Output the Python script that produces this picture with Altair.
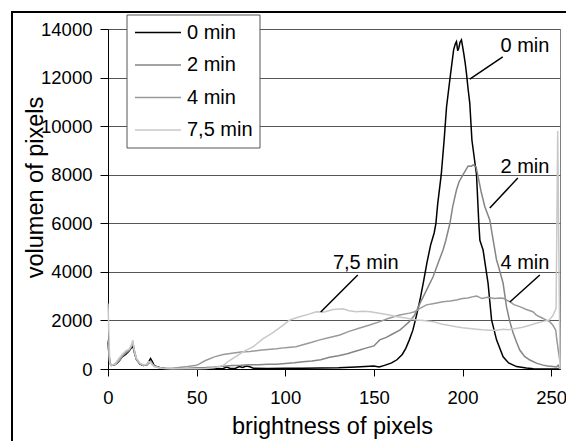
import altair as alt
import pandas as pd

# ---------------- data ----------------
series = ["0 min", "2 min", "4 min", "7,5 min"]
colors = ["#000000", "#858585", "#9a9a9a", "#c8c8c8"]

x_low = [0, 1, 2, 4, 6, 8, 10, 12, 13, 14, 15, 16, 18, 20, 22, 23, 24, 25, 26, 28, 30, 33, 36, 40]
y0_low = [1100, 250, 150, 180, 300, 500, 600, 750, 850, 950, 650, 400, 200, 150, 180, 300, 430, 300, 150, 80, 40, 10, 0, 0]
y2_low = [1200, 250, 160, 200, 320, 520, 650, 780, 900, 1050, 700, 400, 220, 150, 170, 250, 330, 220, 130, 70, 40, 20, 10, 20]
y4_low = [1000, 230, 150, 190, 330, 550, 680, 800, 920, 1100, 720, 420, 230, 160, 160, 230, 300, 200, 120, 70, 40, 30, 30, 60]
y75_low = [2700, 250, 160, 210, 420, 600, 750, 820, 950, 1180, 700, 450, 230, 170, 200, 300, 280, 170, 100, 60, 30, 20, 10, 10]

x0_hi = [45, 50, 60, 65, 67, 69, 72, 74, 76, 78, 80, 82, 90, 100, 110, 120, 130, 140, 145, 150, 153, 156,
         160, 163, 166, 168, 170, 172, 174, 176, 178, 180, 182, 184, 185, 186, 188, 189.6, 191, 193, 195,
         196, 196.6, 197.3, 197.9, 198.6, 199.4, 200, 200.7, 201.5, 202.2, 203.2, 204.1, 205.3, 207.9,
         209.2, 209.8, 211.6, 214.4, 216.4, 219.2, 222.9, 226, 230.5, 236, 240, 250, 255]
y0_hi = [0, 5, 10, 20, 80, 20, 30, 100, 60, 120, 90, 30, 20, 30, 30, 40, 50, 80, 100, 120, 80, 150,
         250, 380, 600, 850, 1200, 1600, 2200, 2840, 3600, 4400, 5100, 5600, 6000, 6800, 8000, 9400, 10800, 12000, 13150,
         13400, 13480, 13100, 13220, 13450, 13550, 13300, 13000, 12600, 12190, 11500, 10950, 9430, 8000,
         6000, 5300, 4900, 3540, 2020, 1200, 500, 250, 100, 40, 10, 0, 0]

x2_hi = [45, 50, 55, 60, 65, 70, 75, 80, 85, 90, 95, 100, 105, 110, 115, 120, 125, 130, 135, 140, 142, 145,
         150, 153.3, 157, 160, 164.6, 167, 170, 173, 176, 179.7, 183.4, 186.2, 189, 190.6, 192.9, 194.5,
         196.6, 198, 200.3, 203.2, 205, 206, 207.6, 208.8, 210.5, 212.6, 215.4, 217.3, 219.2, 220, 222.9,
         224.8, 226.5, 228.6, 230.5, 232.3, 235, 238, 242, 245.5, 248, 251, 253, 254, 255]
y2_hi = [30, 50, 60, 80, 110, 140, 150, 170, 180, 200, 200, 230, 260, 300, 330, 380, 480, 550, 630, 740, 780, 850,
         950, 1200, 1300, 1420, 1600, 1750, 1950, 2220, 2700, 3250, 3800, 4350, 4900, 5300, 6000, 6700,
         7370, 7700, 8000, 8360, 8350, 8400, 8330, 7920, 7300, 6680, 6140, 5310, 4490, 4300, 3530,
         2570, 2000, 1470, 1100, 780, 520, 370, 230, 160, 120, 100, 80, 150, 0]

x4_hi = [45, 50, 55, 60, 65, 70, 75, 80, 87, 95, 100, 106, 110, 115, 119.5, 125, 130.8, 136, 142, 147.6,
         153.4, 158, 164.6, 170, 173, 176, 179.7, 184, 189, 193, 196.6, 200, 203, 206, 208, 211, 214, 218,
         221, 223, 226.7, 229, 232.3, 236, 239.7, 241.7, 245, 247, 249.2, 251, 252.6, 253, 254, 255]
y4_hi = [100, 150, 350, 500, 600, 650, 700, 720, 780, 830, 880, 920, 1000, 1100, 1200, 1300, 1400, 1550, 1690, 1810,
         1950, 2080, 2220, 2300, 2360, 2500, 2640, 2700, 2770, 2800, 2840, 2900, 2920, 2980, 3000, 2900, 2950, 2900,
         2920, 2910, 2770, 2650, 2570, 2450, 2360, 2220, 2100, 2020, 1950, 1800, 1600, 1330, 780, 300]

x75_hi = [50, 55, 60, 65, 69, 74, 78, 82, 87.5, 92, 98.7, 102.5, 108, 113, 117.5, 122, 127, 132.5, 136, 140,
          144, 148, 153, 158.8, 163, 168, 173.8, 178, 183.3, 188, 192, 196.4, 200, 204, 208, 211, 215.2, 219,
          223, 226, 230.2, 234, 238, 241.5, 245, 249, 251, 252.8, 253.7, 255]
y75_hi = [10, 20, 50, 150, 370, 600, 780, 920, 1250, 1450, 1800, 2020, 2150, 2250, 2360, 2350, 2450, 2480, 2400, 2360,
          2380, 2360, 2300, 2220, 2150, 2100, 2020, 2000, 1950, 1850, 1800, 1740, 1700, 1670, 1640, 1620, 1600, 1600,
          1640, 1620, 1670, 1720, 1800, 1880, 1950, 2020, 2200, 2500, 9800, 0]

# annotations: label, label position, leader line start/end (data units)
ann_text = ["0 min", "2 min", "7,5 min", "4 min"]
ann_x = [235.2, 235.2, 145.4, 235.2]
ann_y = [13300, 8320, 4365, 4365]
ann_x1 = [222.7, 231.2, 140.9, 243.6]
ann_y1 = [12850, 7865, 3870, 3870]
ann_x2 = [204.1, 215.4, 120.0, 226.7]
ann_y2 = [11940, 6630, 2350, 2760]

# ---------------- tables ----------------
rows = []
for name, xl, yl, xh, yh in [
    ("0 min", x_low, y0_low, x0_hi, y0_hi),
    ("2 min", x_low, y2_low, x2_hi, y2_hi),
    ("4 min", x_low, y4_low, x4_hi, y4_hi),
    ("7,5 min", x_low, y75_low, x75_hi, y75_hi),
]:
    xs = list(xl) + list(xh)
    ys = list(yl) + list(yh)
    for i, (xv, yv) in enumerate(zip(xs, ys)):
        rows.append({"series": name, "x": xv, "y": yv, "order": i})
df = pd.DataFrame(rows)

ann = pd.DataFrame({"label": ann_text, "x": ann_x, "y": ann_y,
                    "x1": ann_x1, "y1": ann_y1, "x2": ann_x2, "y2": ann_y2})
leg = pd.DataFrame({"series": series})
one = pd.DataFrame({"a": [0]})

FONT = "Liberation Sans"
xscale = alt.Scale(domain=[0, 255], nice=False, zero=False)
yscale = alt.Scale(domain=[0, 14000], nice=False)
cscale = alt.Scale(domain=series, range=colors)

xaxis = alt.Axis(
    values=[0, 50, 100, 150, 200, 250], grid=False, domain=True, domainColor="black",
    domainWidth=1, tickColor="black", tickSize=7, labelFontSize=18.5, labelFont=FONT,
    labelColor="black", labelPadding=12, labelFlush=False, title="brightness of pixels",
    titleFont=FONT, titleFontSize=23.5, titleFontWeight="normal", titleColor="black",
    titleX=224, titleY=64, titleBaseline="alphabetic", titleAlign="center")

frame = alt.Chart(one).mark_rect(fill=None, stroke="black", strokeWidth=2).encode(
    x=alt.value(-96), x2=alt.value(470), y=alt.value(-17), y2=alt.value(425)
)

lines = alt.Chart(df).mark_line(strokeWidth=1.5).encode(
    x=alt.X("x:Q", scale=xscale, axis=xaxis),
    y=alt.Y("y:Q", scale=yscale, axis=alt.Axis(
        values=list(range(0, 14001, 2000)), format="d", grid=True, gridColor="#555555",
        gridWidth=1, domain=True, domainColor="black", domainWidth=1, tickColor="black",
        tickSize=8, labelFontSize=18.5, labelFont=FONT, labelColor="black", labelPadding=8,
        labelFlush=False, title="volumen of pixels", titleFont=FONT, titleFontSize=23.5,
        titleFontWeight="normal", titleColor="black", titleX=-66, titleY=158,
        titleBaseline="alphabetic", titleAlign="center", titleAngle=270)),
    color=alt.Color("series:N", scale=cscale, legend=None),
    order="order:Q",
)

leaders = alt.Chart(ann).mark_rule(color="black", strokeWidth=1.5).encode(
    x=alt.X("x1:Q", scale=xscale, axis=xaxis), y=alt.Y("y1:Q", scale=yscale, axis=None),
    x2="x2:Q", y2="y2:Q",
)

labels = alt.Chart(ann).mark_text(font=FONT, fontSize=20, color="black",
                                  align="center", baseline="middle").encode(
    x=alt.X("x:Q", scale=xscale, axis=xaxis), y=alt.Y("y:Q", scale=yscale, axis=None),
    text="label:N",
)

legbox = alt.Chart(one).mark_rect(fill="white", stroke="#555555", strokeWidth=1).encode(
    x=alt.value(19), x2=alt.value(152), y=alt.value(-14), y2=alt.value(119)
)

legy = alt.Y("series:N", scale=alt.Scale(type="point", domain=series, range=[3.5, 101], padding=0),
             axis=None)
legrules = alt.Chart(leg).mark_rule(strokeWidth=1.5).encode(
    x=alt.value(27), x2=alt.value(73), y=legy,
    color=alt.Color("series:N", scale=cscale, legend=None),
)
legtext = alt.Chart(leg).mark_text(font=FONT, fontSize=20, color="black",
                                   align="left", baseline="middle").encode(
    x=alt.value(79), y=legy, text="series:N",
)

chart = alt.layer(frame, lines, leaders, labels, legbox, legrules, legtext).resolve_scale(
    y="independent"
).properties(
    width=452, height=340,
    autosize=alt.AutoSizeParams(type="none"),
    padding={"left": 108, "top": 29, "right": 6, "bottom": 72},
    background="white",
).configure_view(stroke="#808080", strokeWidth=1)

chart.save("out.html", embed_options={"renderer": "svg", "actions": False})
